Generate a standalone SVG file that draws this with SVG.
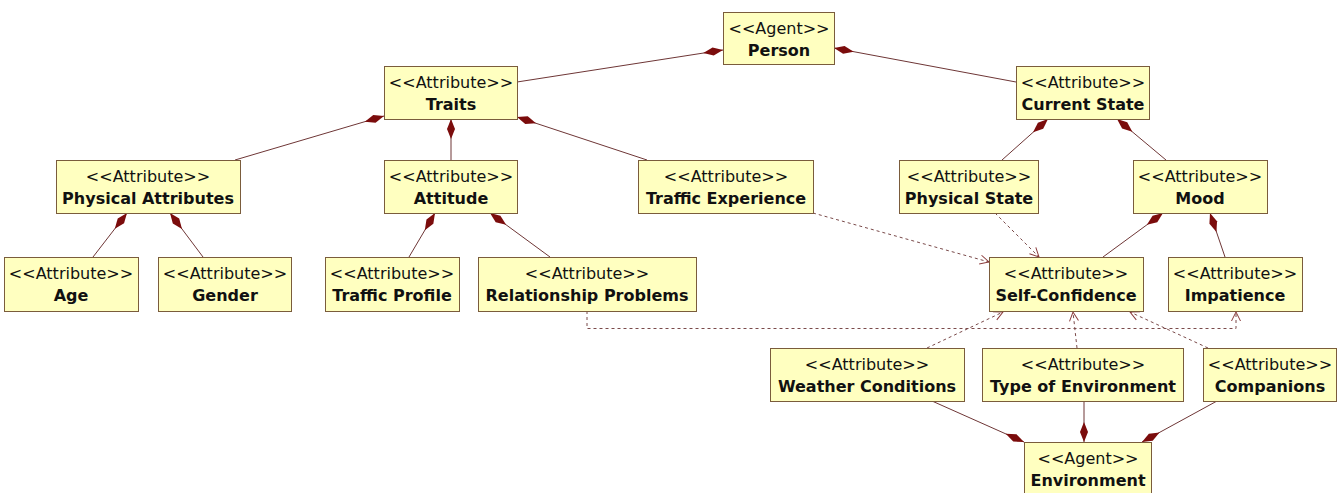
<svg xmlns="http://www.w3.org/2000/svg" width="1343" height="493" viewBox="0 0 1343 493">
<style>
.box{fill:#ffffc0;stroke:#7a5c3c;stroke-width:1}
.st{font-family:"DejaVu Sans",sans-serif;font-size:16px;fill:#111;text-anchor:middle}
.nm{font-family:"DejaVu Sans",sans-serif;font-size:16px;font-weight:bold;fill:#111;text-anchor:middle}
.comp{stroke:#6e3636;stroke-width:1;fill:none;marker-end:url(#diamond)}
.dep{stroke:#7a4a4a;stroke-width:1;fill:none;stroke-dasharray:3,3;marker-end:url(#open)}
</style>
<defs>
<marker id="diamond" markerUnits="userSpaceOnUse" markerWidth="22" markerHeight="10" viewBox="0 -5 22 10" refX="20" refY="0" orient="auto">
<path d="M0,0 L10,-4 L20,0 L10,4 z" fill="#7b0c0c"/>
</marker>
<marker id="open" markerUnits="userSpaceOnUse" markerWidth="12" markerHeight="12" viewBox="-1 -6 12 12" refX="9" refY="0" orient="auto">
<path d="M0,-4.5 L9,0 L0,4.5" fill="none" stroke="#8a3a3a" stroke-width="1"/>
</marker>
</defs>
<rect width="1343" height="493" fill="#ffffff"/>
<g id="connectors">
<line class="comp" x1="517" y1="82" x2="723" y2="50"/>
<line class="comp" x1="1016" y1="82" x2="834" y2="48"/>
<line class="comp" x1="235" y1="160" x2="384" y2="116"/>
<line class="comp" x1="451" y1="160" x2="451" y2="119"/>
<line class="comp" x1="647" y1="160" x2="517" y2="117"/>
<line class="comp" x1="93" y1="257" x2="127" y2="213"/>
<line class="comp" x1="203" y1="257" x2="170" y2="213"/>
<line class="comp" x1="409" y1="257" x2="435" y2="213"/>
<line class="comp" x1="550" y1="257" x2="490" y2="213"/>
<line class="comp" x1="1002" y1="160" x2="1048" y2="119"/>
<line class="comp" x1="1166" y1="160" x2="1117" y2="119"/>
<line class="comp" x1="1103" y1="257" x2="1163" y2="213"/>
<line class="comp" x1="1225" y1="257" x2="1210" y2="213"/>
<line class="comp" x1="932" y1="401" x2="1024" y2="442"/>
<line class="comp" x1="1084" y1="401" x2="1084" y2="442"/>
<line class="comp" x1="1217" y1="401" x2="1142" y2="442"/>
<line class="dep" x1="813" y1="213" x2="989" y2="262"/>
<line class="dep" x1="995" y1="213" x2="1039" y2="257"/>
<polyline class="dep" points="587,311 587,328.5 1236,328.5 1236,312"/>
<line class="dep" x1="927" y1="348" x2="1003" y2="312"/>
<line class="dep" x1="1077" y1="348" x2="1073" y2="312"/>
<line class="dep" x1="1208" y1="348" x2="1130" y2="312"/>
</g>
<g id="person"><rect class="box" x="723.5" y="12.5" width="111" height="52"/><text class="st" x="779" y="34">&lt;&lt;Agent&gt;&gt;</text><text class="nm" x="779" y="56">Person</text></g>
<g id="traits"><rect class="box" x="384.5" y="66.5" width="133" height="53"/><text class="st" x="451" y="88">&lt;&lt;Attribute&gt;&gt;</text><text class="nm" x="451" y="110">Traits</text></g>
<g id="current-state"><rect class="box" x="1016.5" y="66.5" width="133" height="53"/><text class="st" x="1083" y="88">&lt;&lt;Attribute&gt;&gt;</text><text class="nm" x="1083" y="110">Current State</text></g>
<g id="physical-attributes"><rect class="box" x="56.5" y="160.5" width="184" height="53"/><text class="st" x="148" y="182">&lt;&lt;Attribute&gt;&gt;</text><text class="nm" x="148" y="204">Physical Attributes</text></g>
<g id="attitude"><rect class="box" x="384.5" y="160.5" width="133" height="53"/><text class="st" x="451" y="182">&lt;&lt;Attribute&gt;&gt;</text><text class="nm" x="451" y="204">Attitude</text></g>
<g id="traffic-experience"><rect class="box" x="638.5" y="160.5" width="175" height="53"/><text class="st" x="726" y="182">&lt;&lt;Attribute&gt;&gt;</text><text class="nm" x="726" y="204">Traffic Experience</text></g>
<g id="physical-state"><rect class="box" x="899.5" y="160.5" width="139" height="53"/><text class="st" x="969" y="182">&lt;&lt;Attribute&gt;&gt;</text><text class="nm" x="969" y="204">Physical State</text></g>
<g id="mood"><rect class="box" x="1133.5" y="160.5" width="134" height="53"/><text class="st" x="1200" y="182">&lt;&lt;Attribute&gt;&gt;</text><text class="nm" x="1200" y="204">Mood</text></g>
<g id="age"><rect class="box" x="4.5" y="257.5" width="134" height="54"/><text class="st" x="71" y="279">&lt;&lt;Attribute&gt;&gt;</text><text class="nm" x="71" y="301">Age</text></g>
<g id="gender"><rect class="box" x="158.5" y="257.5" width="133" height="54"/><text class="st" x="225" y="279">&lt;&lt;Attribute&gt;&gt;</text><text class="nm" x="225" y="301">Gender</text></g>
<g id="traffic-profile"><rect class="box" x="325.5" y="257.5" width="134" height="54"/><text class="st" x="392" y="279">&lt;&lt;Attribute&gt;&gt;</text><text class="nm" x="392" y="301">Traffic Profile</text></g>
<g id="relationship-problems"><rect class="box" x="478.5" y="257.5" width="218" height="54"/><text class="st" x="587" y="279">&lt;&lt;Attribute&gt;&gt;</text><text class="nm" x="587" y="301">Relationship Problems</text></g>
<g id="self-confidence"><rect class="box" x="989.5" y="257.5" width="154" height="54"/><text class="st" x="1066" y="279">&lt;&lt;Attribute&gt;&gt;</text><text class="nm" x="1066" y="301">Self-Confidence</text></g>
<g id="impatience"><rect class="box" x="1168.5" y="257.5" width="134" height="54"/><text class="st" x="1235" y="279">&lt;&lt;Attribute&gt;&gt;</text><text class="nm" x="1235" y="301">Impatience</text></g>
<g id="weather-conditions"><rect class="box" x="770.5" y="348.5" width="194" height="53"/><text class="st" x="867" y="370">&lt;&lt;Attribute&gt;&gt;</text><text class="nm" x="867" y="392">Weather Conditions</text></g>
<g id="type-of-environment"><rect class="box" x="982.5" y="348.5" width="201" height="53"/><text class="st" x="1083" y="370">&lt;&lt;Attribute&gt;&gt;</text><text class="nm" x="1083" y="392">Type of Environment</text></g>
<g id="companions"><rect class="box" x="1203.5" y="348.5" width="133" height="53"/><text class="st" x="1270" y="370">&lt;&lt;Attribute&gt;&gt;</text><text class="nm" x="1270" y="392">Companions</text></g>
<g id="environment"><rect class="box" x="1024.5" y="442.5" width="127" height="53"/><text class="st" x="1088" y="464">&lt;&lt;Agent&gt;&gt;</text><text class="nm" x="1088" y="486">Environment</text></g>
</svg>
